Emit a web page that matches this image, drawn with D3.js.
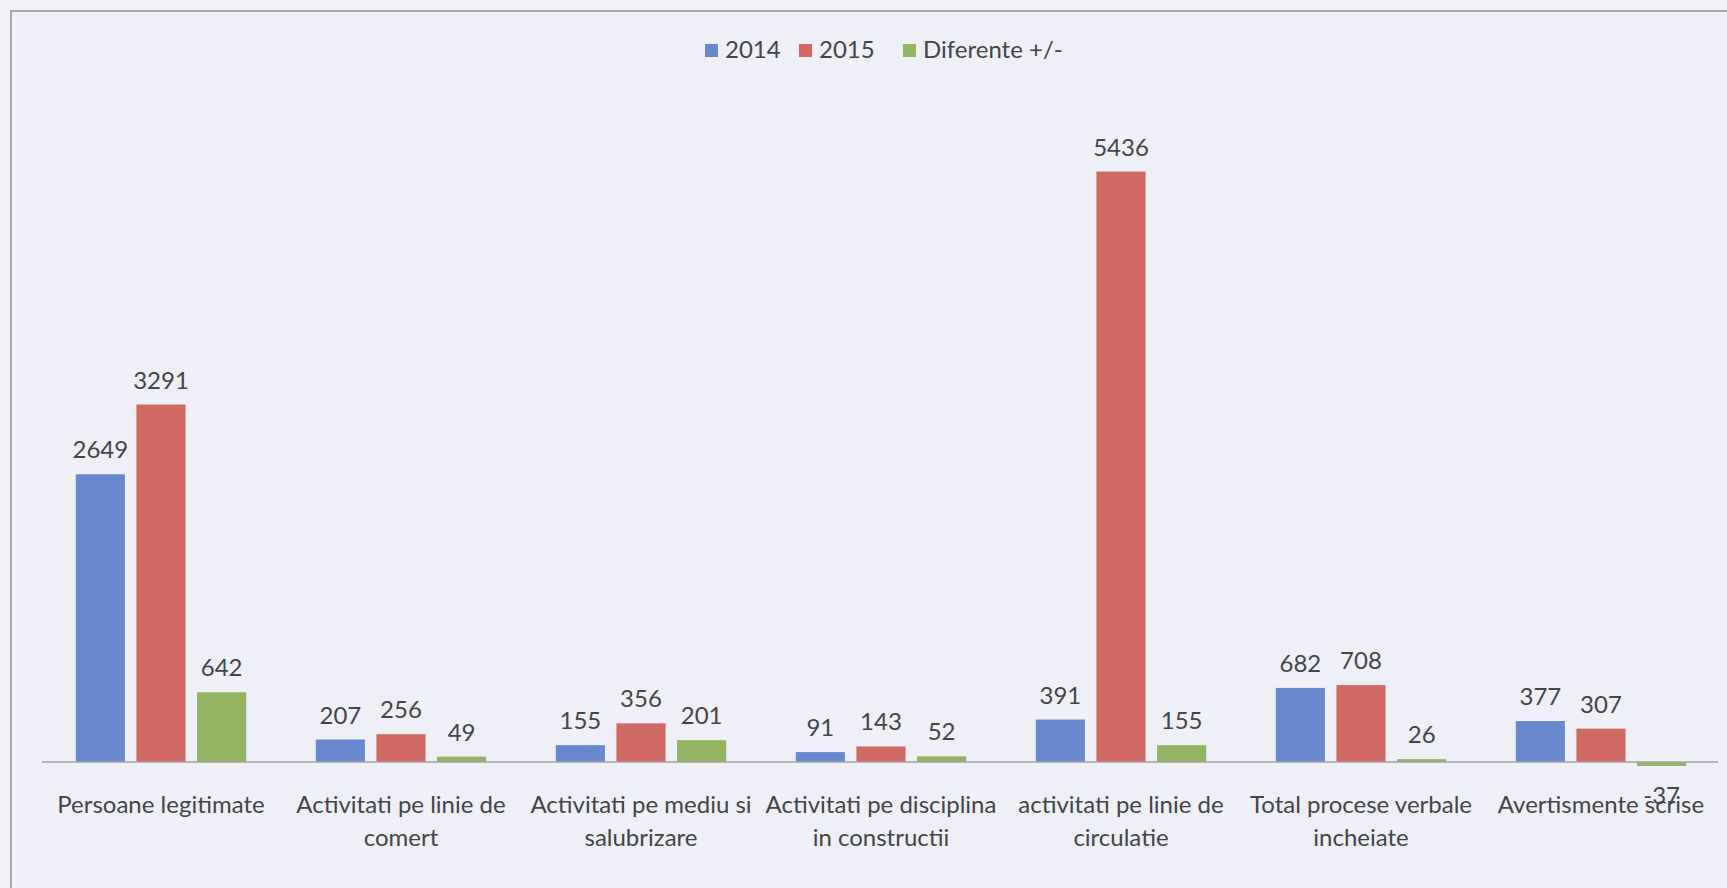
<!DOCTYPE html>
<html>
<head>
<meta charset="utf-8">
<script src="https://cdn.jsdelivr.net/npm/d3@7"></script>
<style>
  html, body { margin: 0; padding: 0; background: #f0f1f7; }
  svg { display: block; }
  text { font-family: Lato, "Open Sans", sans-serif; fill: #454548; }
</style>
</head>
<body>
<svg id="chart" width="1727" height="888"></svg>
<script>
const categories = [
  "Persoane legitimate",
  "Activitati pe linie de\ncomert",
  "Activitati pe mediu si\nsalubrizare",
  "Activitati pe disciplina\nin constructii",
  "activitati pe linie de\ncirculatie",
  "Total procese verbale\nincheiate",
  "Avertismente scrise"
];
const seriesNames = ["2014", "2015", "Diferente +/-"];
const values2014 = [2649, 207, 155, 91, 391, 682, 377];
const values2015 = [3291, 256, 356, 143, 5436, 708, 307];
const valuesDiff = [642, 49, 201, 52, 155, 26, -37];
const colors = ["#6889cd", "#d06a62", "#93b462"];

const seriesValues = [values2014, values2015, valuesDiff];
const svg = d3.select("#chart");
const W = 1727, H = 888;

// background + frame
svg.append("rect").attr("x", 0).attr("y", 0).attr("width", W).attr("height", H).attr("fill", "#f0f1f7");
svg.append("rect").attr("x", 11).attr("y", 11).attr("width", W).attr("height", H)
  .attr("fill", "#eeeff7").attr("stroke", "#a9a9ad").attr("stroke-width", 2);

const x0 = d3.scaleBand().domain(categories).range([41, 1721]).paddingInner(0.29).paddingOuter(0.145);
const x1 = d3.scaleBand().domain(seriesNames).range([0, x0.bandwidth()]).paddingInner(0.19);
const y = d3.scaleLinear().domain([-1000, 6000]).range([870.6, 110.3]);

const data = [];
categories.forEach((c, i) => {
  seriesNames.forEach((s, j) => data.push({cat: c, series: s, value: seriesValues[j][i], color: colors[j]}));
});

// bars
svg.append("g").selectAll("rect").data(data).join("rect")
  .attr("x", d => x0(d.cat) + x1(d.series))
  .attr("width", x1.bandwidth())
  .attr("y", d => y(Math.max(0, d.value)))
  .attr("height", d => Math.abs(y(d.value) - y(0)))
  .attr("fill", d => d.color);

// axis line (category axis at 0)
const xAxis = d3.axisBottom(x0).tickSize(0).tickFormat("");
const gx = svg.append("g").attr("transform", `translate(0,${y(0)})`).call(xAxis);
gx.select(".domain").attr("stroke", "#a3a3a6").attr("stroke-width", 1.6).attr("d", `M42,0H1718`);

// category labels
const catG = svg.append("g");
categories.forEach(c => {
  const lines = c.split("\n");
  const t = catG.append("text").attr("text-anchor", "middle").attr("font-size", 24)
    .attr("x", x0(c) + x0.bandwidth() / 2).attr("y", 813);
  lines.forEach((ln, k) => {
    t.append("tspan").attr("x", x0(c) + x0.bandwidth() / 2).attr("dy", k === 0 ? 0 : 33).text(ln);
  });
});

// value labels
svg.append("g").selectAll("text").data(data).join("text")
  .attr("text-anchor", "middle").attr("font-size", 24)
  .attr("x", d => x0(d.cat) + x1(d.series) + x1.bandwidth() / 2)
  .attr("y", d => d.value >= 0 ? y(d.value) - 16 : y(d.value) + 38)
  .text(d => d.value < 0 ? "-" + Math.abs(d.value) : d.value);

// legend
const legendItems = [
  {name: seriesNames[0], color: colors[0], x: 705},
  {name: seriesNames[1], color: colors[1], x: 799},
  {name: seriesNames[2], color: colors[2], x: 903}
];
const lg = svg.append("g");
legendItems.forEach(it => {
  lg.append("rect").attr("x", it.x).attr("y", 44).attr("width", 13).attr("height", 13).attr("fill", it.color);
  lg.append("text").attr("x", it.x + 20).attr("y", 58).attr("font-size", 24).text(it.name);
});
</script>
</body>
</html>
